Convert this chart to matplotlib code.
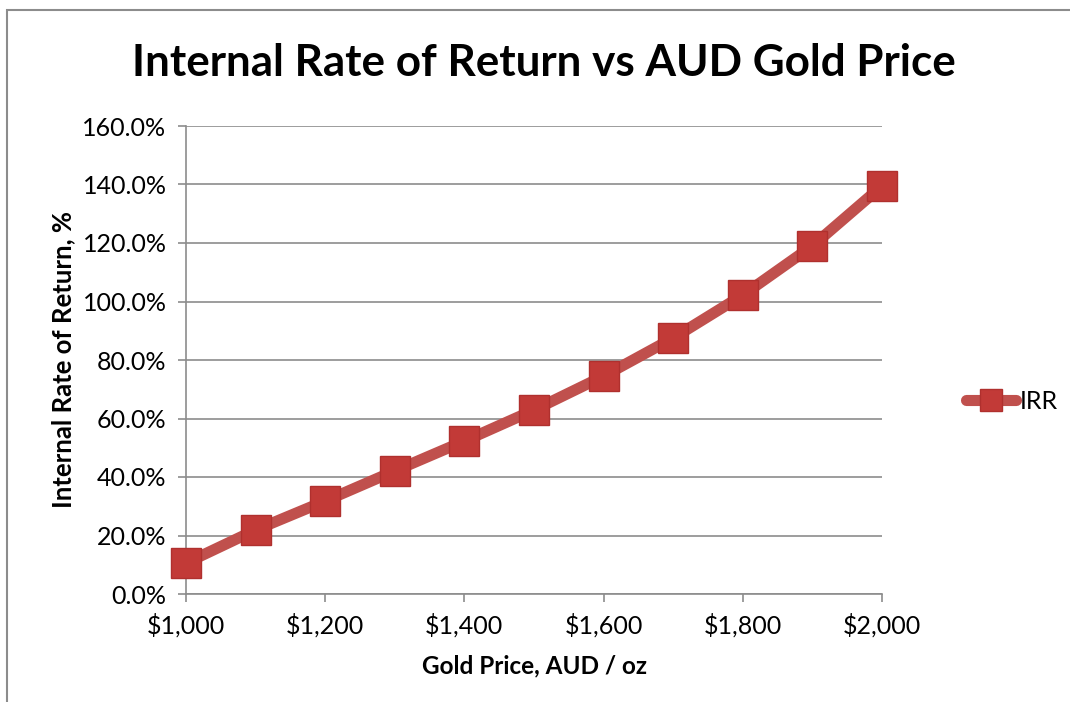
import matplotlib
matplotlib.use("Agg")
import matplotlib.pyplot as plt
from matplotlib.ticker import FuncFormatter, MultipleLocator
from matplotlib.patches import Rectangle

gold_price = [1000, 1100, 1200, 1300, 1400, 1500, 1600, 1700, 1800, 1900, 2000]
irr = [10.6, 21.9, 31.8, 42.1, 52.3, 62.9, 74.5, 87.5, 102.2, 119.0, 139.5]

title = "Internal Rate of Return vs AUD Gold Price"
xlabel = "Gold Price, AUD / oz"
ylabel = "Internal Rate of Return, %"
series_name = "IRR"

plt.rcParams['font.family'] = ['Lato', 'DejaVu Sans']

W, H = 1070, 702
fig = plt.figure(figsize=(W / 100, H / 100), dpi=100)
# outer chart frame
fig.patches.append(Rectangle((7 / W, -0.01), 1.1, 1 - 10 / H + 0.01, transform=fig.transFigure,
                             fill=False, edgecolor='#8c8c8c', linewidth=1.5))

ax = fig.add_axes([186 / W, 1 - 594 / H, (882 - 186) / W, (594 - 126) / H])
ax.plot(gold_price, irr, color='#c0504d', linewidth=8, marker='s', markersize=21,
        markerfacecolor='#c23a37', markeredgecolor='#b0302e', markeredgewidth=1,
        solid_capstyle='round', label=series_name, zorder=3, clip_on=False)

ax.set_xlim(1000, 2000)
ax.set_ylim(0, 160)
ax.xaxis.set_major_locator(MultipleLocator(200))
ax.yaxis.set_major_locator(MultipleLocator(20))
ax.xaxis.set_major_formatter(FuncFormatter(lambda v, p: f"${v:,.0f}"))
ax.yaxis.set_major_formatter(FuncFormatter(lambda v, p: f"{v:.1f}%"))
ax.grid(axis='y', color='#8c8c8c', linewidth=1.2)
ax.set_axisbelow(True)
for s in ['top', 'right']:
    ax.spines[s].set_visible(False)
for s in ['left', 'bottom']:
    ax.spines[s].set_color('#8c8c8c')
    ax.spines[s].set_linewidth(1.2)
ax.tick_params(axis='both', colors='#8c8c8c', labelcolor='black', labelsize=18, length=6, width=1.2)
ax.tick_params(axis='x', pad=8)
ax.tick_params(axis='y', pad=8)

ax.set_xlabel(xlabel, fontsize=17.5, fontweight='bold', labelpad=12)
ax.set_ylabel(ylabel, fontsize=18.5, fontweight='bold', labelpad=5)
fig.text(544 / W, 1 - 63 / H, title, fontsize=31.7, fontweight='bold', ha='center', va='center')

leg = ax.legend(loc='center left', bbox_to_anchor=(953 / W, 1 - 401 / H), bbox_transform=fig.transFigure,
                frameon=False, fontsize=18, handlelength=2.0, handletextpad=0.15, borderpad=0)
for h in leg.legend_handles:
    h.set_markersize(16)
    h.set_linewidth(8)

fig.savefig("out.png", dpi=100)
